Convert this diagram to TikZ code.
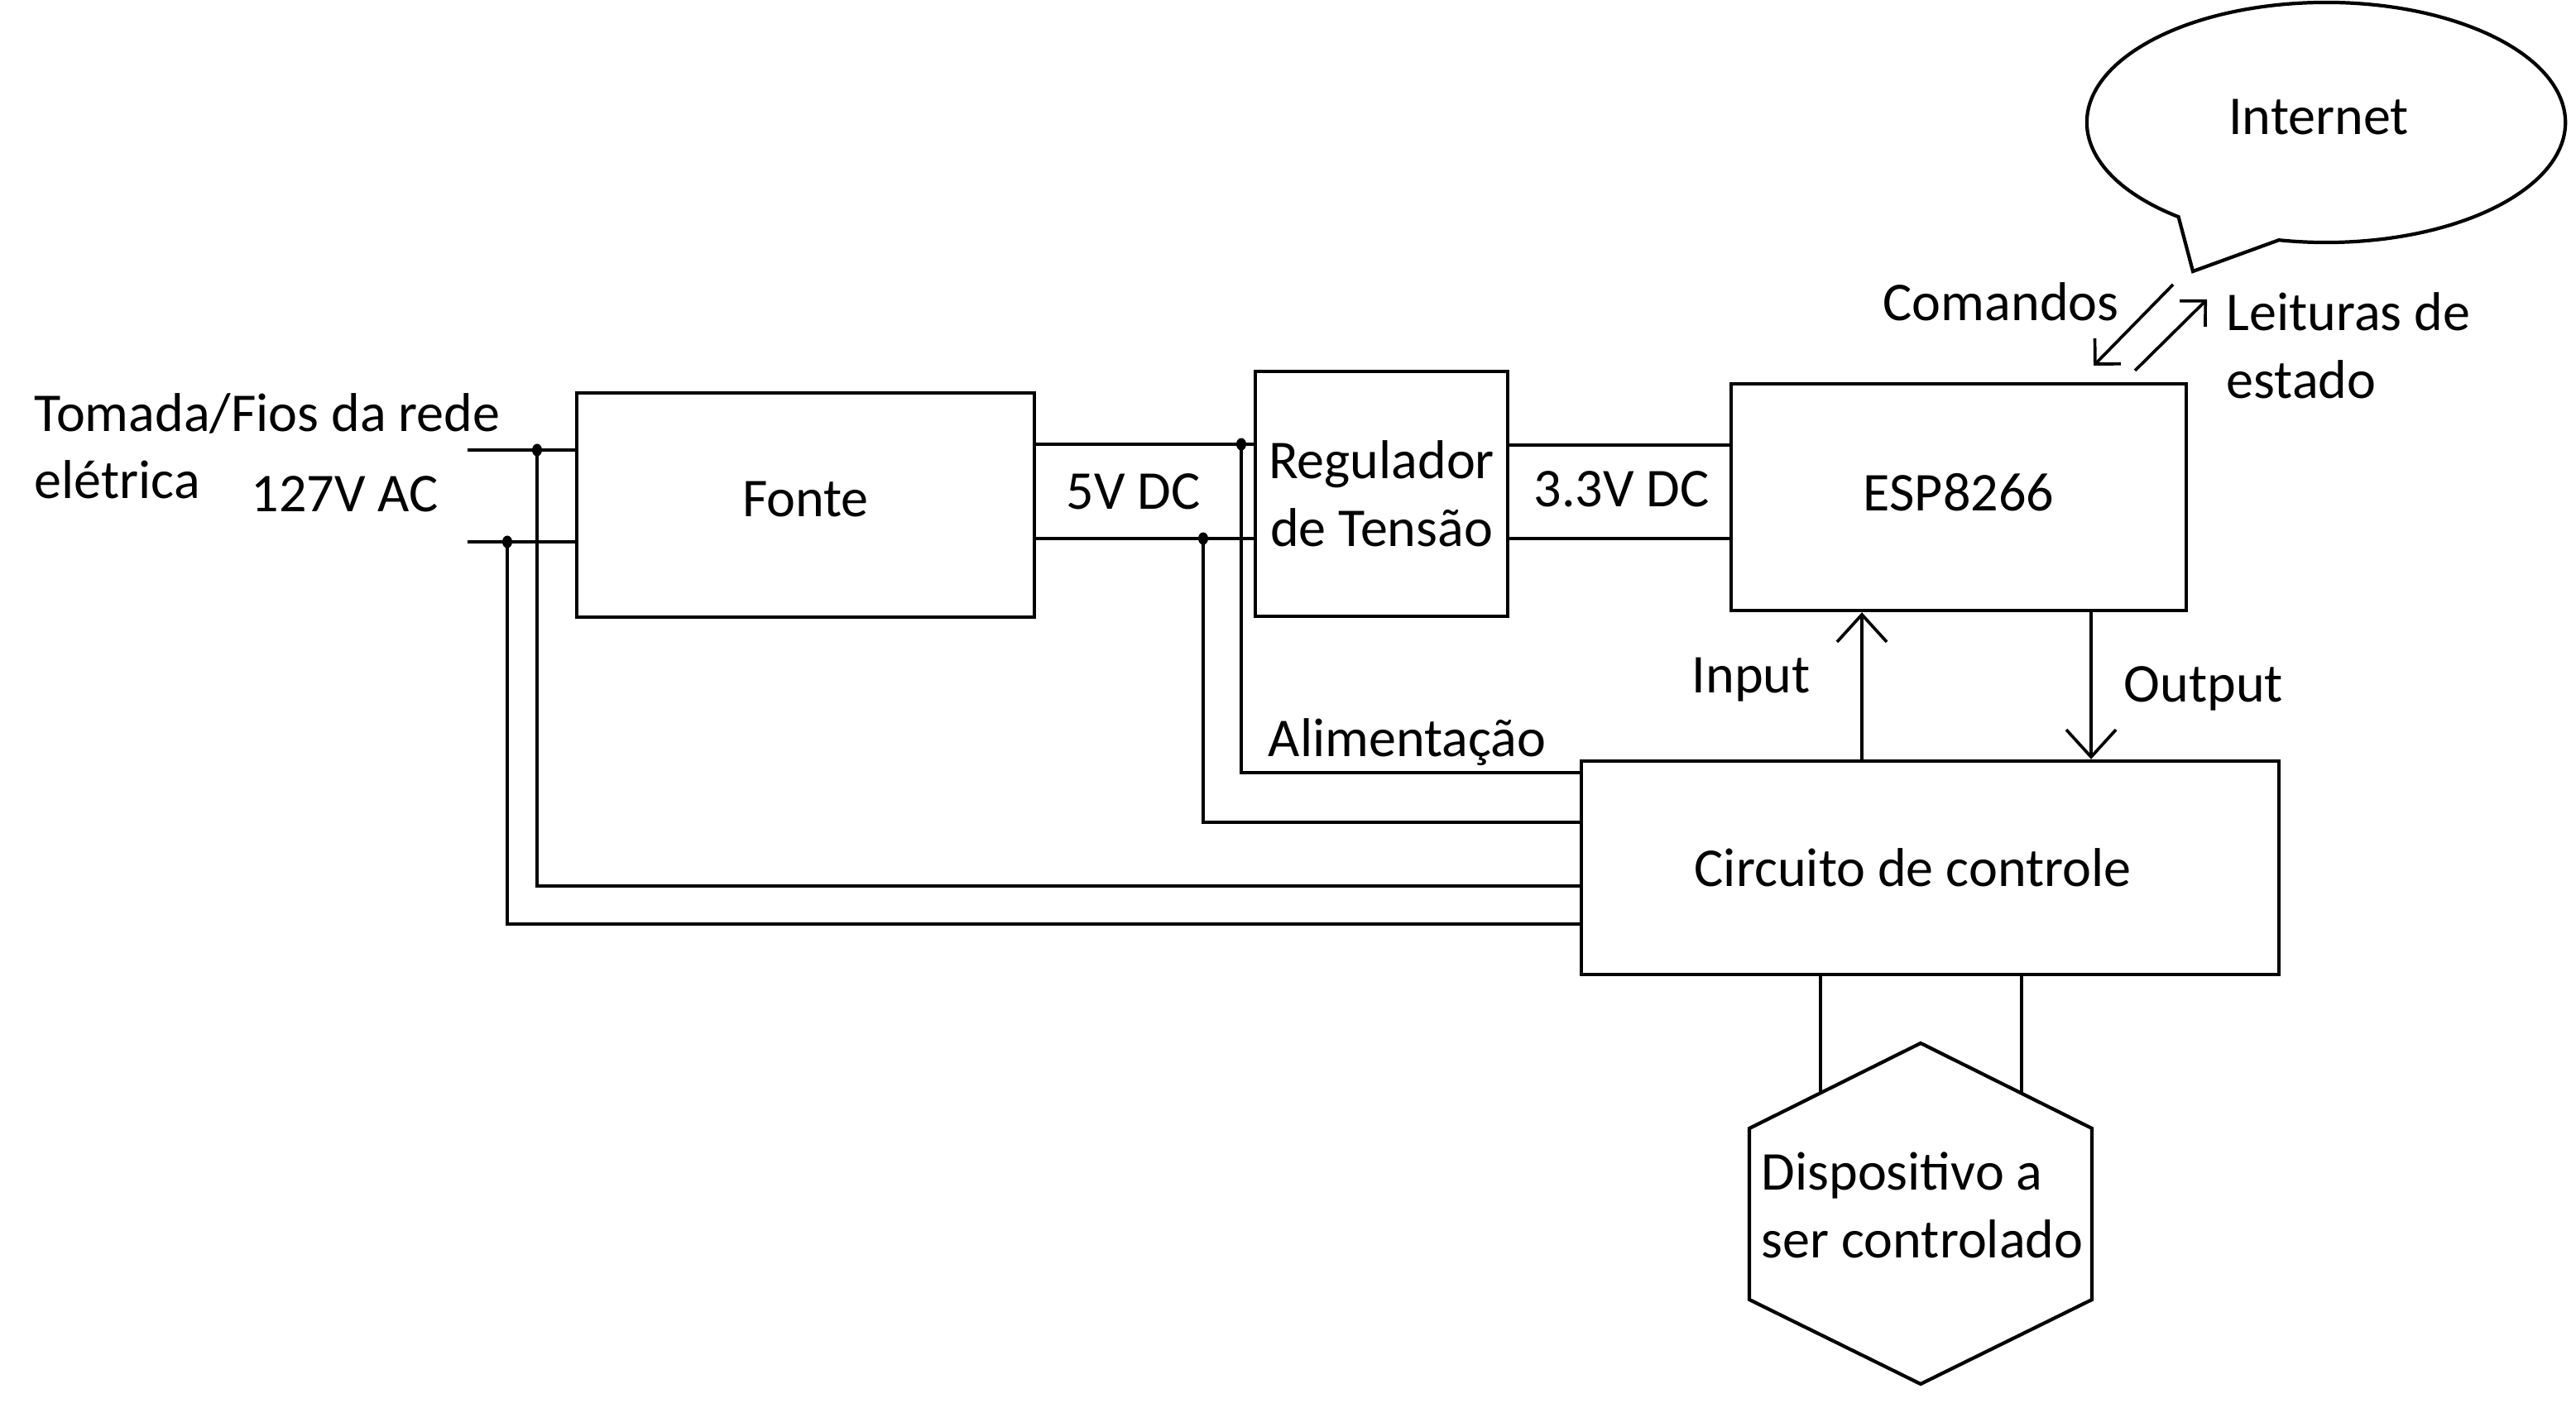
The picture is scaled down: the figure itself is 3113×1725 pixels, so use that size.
\documentclass[tikz,border=0pt]{standalone}
\usepackage{fontspec}
\setmainfont{Carlito}
\usetikzlibrary{arrows.meta}
\begin{document}
\begin{tikzpicture}[x=0.01cm,y=-0.01cm,
  every node/.style={font=\fontsize{18.8pt}{23.3pt}\selectfont, inner sep=0pt},
  box/.style={draw, line width=1.2pt, rectangle, align=center},
  wire/.style={line width=1.2pt},
  thinwire/.style={line width=1.05pt},
  arr/.style={line width=1.05pt, -{Straight Barb[length=0.33cm,width=0.6cm]}},
  darr/.style={line width=1.05pt, -{Straight Barb[length=0.22cm,width=0.44cm]}},
  dotfill/.style={fill=black}
]
\useasboundingbox (0,0) rectangle (3113,1725);

% blocks
\node[box, minimum width=5.53cm, minimum height=2.71cm, text depth=0.14cm] (fonte) at (973.5,610.5) {Fonte};
\node[box, minimum width=3.05cm, minimum height=2.96cm] (reg) at (1669.5,597) {Regulador\\de Tensão};
\node[box, minimum width=5.50cm, minimum height=2.74cm, text depth=0.12cm] (esp) at (2367,601) {ESP8266};
\node[box, minimum width=8.42cm, minimum height=2.58cm] (circ) at (2332.5,1049) {Circuito de controle\kern0.42cm};

% device hexagon
\draw[wire] (2321,1261) -- (2528,1364) -- (2528,1571) -- (2321,1673) -- (2114,1571) -- (2114,1364) -- cycle;
\node[align=left] (disp) at (2323,1457) {Dispositivo a\\ser controlado};

% internet callout
\draw[wire] ([shift={(231.9:2.89cm and 1.45cm)}]2811,148) arc[start angle=231.9, end angle=-101.4, x radius=2.89cm, y radius=1.45cm] -- (2650,328) -- cycle;
\node[anchor=base] (internet) at (2802,163) {Internet};

% coordinates
\coordinate (in1) at (565,544);
\coordinate (in2) at (565,655);
\coordinate (j1) at (649,544);
\coordinate (j2) at (613,655);
\coordinate (j3) at (1500,537);
\coordinate (j4) at (1454,651);
\coordinate (h1) at (2200,1320);
\coordinate (h2) at (2443,1322);
\coordinate (c1) at (2626,344);
\coordinate (c2) at (2530,442);
\coordinate (l1) at (2580,448);
\coordinate (l2) at (2667,362);

% wires
\draw[wire] (in1) -- (in1 -| fonte.west);
\draw[wire] (in2) -- (in2 -| fonte.west);
\draw[wire] (fonte.east |- j3) -- (reg.west |- j3);
\draw[wire] (fonte.east |- j4) -- (reg.west |- j4);
\draw[wire] (reg.east |- 0,538) -- (esp.west |- 0,538);
\draw[wire] (reg.east |- 0,651) -- (esp.west |- 0,651);
\draw[thinwire] (j1) |- (circ.west |- 0,1071);
\draw[thinwire] (j2) |- (circ.west |- 0,1117);
\draw[thinwire] (j3) |- (circ.west |- 0,934);
\draw[thinwire] (j4) |- (circ.west |- 0,994);
\draw[wire] (circ.south -| h1) -- (h1);
\draw[wire] (circ.south -| h2) -- (h2);

% junction dots
\foreach \j in {j1,j2,j3,j4} \fill[dotfill] (\j) ellipse[x radius=0.06cm, y radius=0.075cm];

% arrows
\draw[arr] (circ.north -| 2250,0) -- (esp.south -| 2250,0);
\draw[arr] (esp.south -| 2527,0) -- (circ.north -| 2527,0);
\draw[darr] (c1) -- (c2);
\draw[darr] (l1) -- (l2);

% labels
\node[anchor=base west] (tomada) at (41,522) {Tomada/Fios da rede};
\node[anchor=base west] (eletrica) at (41,603) {elétrica};
\node[anchor=base west] (ac) at (303,618) {127V AC};
\node[anchor=base west] (dc5) at (1288,615) {5V DC};
\node[anchor=base west] (dc33) at (1853,613) {3.3V DC};
\node[anchor=base west] (input) at (2044,837) {Input};
\node[anchor=base west] (output) at (2566,848) {Output};
\node[anchor=base west] (alim) at (1532,914) {Alimentação};
\node[anchor=base west] (cmd) at (2275,388) {Comandos};
\node[anchor=base west] (leit) at (2690,400) {Leituras de};
\node[anchor=base west] (estado) at (2690,482) {estado};
\end{tikzpicture}
\end{document}
